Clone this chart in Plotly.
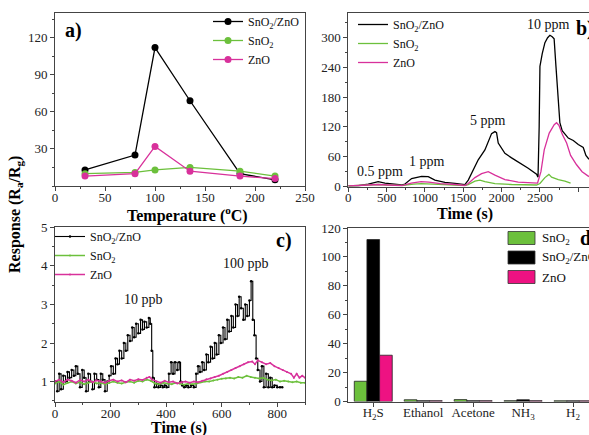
import plotly.graph_objects as go

# ---------------- data ----------------
# panel a: response vs temperature
temp_c = [30, 80, 100, 135, 185, 220]
a_sno2_zno = [13, 25, 112, 69, 10, 5]
a_sno2 = [10, 11, 13, 15, 12, 8]
a_zno = [8, 10, 32, 12, 8, 6]

# panel b: dynamic response (ppm level)
b_t_black = [0, 130, 260, 390, 478, 608, 695, 739, 826, 956, 1043, 1130, 1260, 1391, 1521, 1565, 1608,
             1652, 1695, 1782, 1869, 1913, 1934, 1956, 2043, 2130, 2217, 2347, 2456, 2475, 2490, 2500,
             2530, 2565, 2600, 2630, 2660, 2685, 2709, 2739, 2760, 2790, 2830, 2870, 2935, 3000, 3065,
             3100, 3140]
b_v_black = [0, 0.5, 4, 9, 6, 4, 2, 4, 15, 19.5, 19, 12, 7.4, 5.4, 2.7, 12, 26,
             39, 53, 73, 106, 110, 108, 87, 66, 57, 49, 36, 24, 18, 120, 242,
             268, 290, 300, 305, 302, 298, 242, 175, 128, 112, 104, 97, 92, 84, 78,
             62, 54]
b_t_green = [0, 200, 390, 500, 700, 850, 950, 1100, 1300, 1521, 1565, 1652, 1717, 1782, 1913, 2130,
             2456, 2500, 2565, 2617, 2652, 2739, 2826, 2900]
b_v_green = [0, 1, 3, 2, 1, 4, 5, 4, 2, 1, 3, 10, 12, 9, 5, 3,
             2, 5, 17, 23.5, 18, 13, 10, 6]
b_t_mag = [0, 200, 390, 520, 700, 820, 950, 1050, 1200, 1400, 1521, 1565, 1652, 1739, 1826, 1913, 2043,
           2217, 2456, 2469, 2513, 2556, 2621, 2686, 2717, 2750, 2790, 2848, 2900, 2978, 3050, 3140]
b_v_mag = [0, 1, 3, 2, 1, 6, 9, 8, 5, 3, 1, 5, 17, 25, 29, 22, 13,
           8, 5, 6, 29, 73, 107, 124, 128, 122, 105, 87, 62, 43, 29, 19]

# panel c: dynamic response (ppb level)
c_t_black = [0, 8, 15, 22, 30, 38, 45, 52, 60, 68, 75, 82, 90, 98, 105, 112, 120, 128, 135, 142, 150,
             158, 165, 172, 180, 188, 195, 202, 210, 218, 225, 232, 240, 248, 255, 262, 270, 278, 285,
             292, 300, 308, 315, 322, 330, 338, 343, 348, 352, 358, 365, 372, 380, 388, 395, 402, 410,
             418, 425, 432, 440, 447, 452, 458, 465, 472, 480, 490, 500, 508, 515, 522, 530, 537, 545,
             552, 560, 567, 575, 582, 590, 597, 605, 612, 620, 627, 635, 642, 650, 657, 663, 670, 678,
             685, 692, 700, 706, 712, 718, 724, 730, 738, 745, 752, 760, 768, 775, 782, 790, 800, 810, 818]
c_v_black = [1.0, 0.75, 1.2, 0.8, 1.15, 1.0, 1.25, 1.1, 1.3, 1.15, 1.4, 1.2, 0.85, 1.3, 1.1, 0.75, 1.2,
             1.0, 0.8, 1.2, 1.05, 0.85, 1.2, 1.05, 0.75, 1.0, 1.15, 1.4, 1.2, 1.6, 1.45, 1.8, 1.6, 2.0,
             1.8, 2.2, 2.05, 2.4, 2.15, 2.5, 2.25, 2.6, 2.35, 2.55, 2.4, 2.65, 2.5, 1.8, 1.1, 0.85, 0.95,
             0.85, 0.9, 0.85, 0.9, 0.85, 1.2, 1.5, 1.2, 1.5, 1.3, 1.5, 1.0, 0.9, 0.85, 0.9, 0.85, 0.9,
             0.85, 1.2, 1.4, 1.25, 1.5, 1.3, 1.7, 1.5, 1.9, 1.6, 2.0, 1.7, 2.2, 2.0, 2.4, 2.1, 2.6, 2.3,
             2.7, 2.4, 3.0, 2.7, 3.2, 2.9, 2.6, 3.0, 2.7, 3.1, 3.6, 2.6, 2.2, 1.6, 1.3, 1.0, 1.4, 0.85,
             1.2, 0.85, 1.1, 0.85, 0.9, 0.85, 0.85, 0.85]
c_t_mag = [0, 15, 30, 45, 60, 75, 90, 105, 120, 135, 150, 165, 180, 195, 210, 225, 240, 255, 270, 285,
           300, 315, 330, 340, 350, 365, 380, 395, 410, 425, 440, 455, 470, 485, 500, 515, 530, 545, 560,
           575, 590, 605, 620, 635, 650, 665, 680, 695, 710, 720, 730, 745, 760, 775, 790, 805, 820, 835,
           850, 860, 870, 880, 890, 900]
c_v_mag = [1.0, 1.05, 0.98, 1.05, 1.02, 0.97, 1.04, 1.0, 1.05, 0.98, 1.03, 1.0, 0.97, 1.02, 1.05, 1.0,
           1.03, 0.98, 1.05, 1.02, 1.06, 1.04, 1.1, 1.12, 1.05, 1.0, 0.97, 1.02, 0.98, 1.0, 0.95, 0.98,
           1.0, 0.97, 1.0, 0.98, 1.02, 1.06, 1.08, 1.12, 1.15, 1.2, 1.25, 1.3, 1.35, 1.4, 1.45, 1.5, 1.52,
           1.45, 1.55, 1.5, 1.45, 1.48, 1.4, 1.35, 1.3, 1.25, 1.2, 1.1, 1.2, 1.1, 1.15, 1.1]
c_t_green = [0, 15, 30, 45, 60, 75, 90, 105, 120, 135, 150, 165, 180, 195, 210, 225, 240, 255, 270, 285,
             300, 315, 330, 345, 360, 375, 390, 405, 420, 435, 450, 465, 480, 495, 510, 525, 540, 555, 570,
             585, 600, 615, 630, 645, 660, 675, 690, 705, 720, 735, 750, 765, 780, 795, 810, 825, 840, 855,
             870, 885, 900]
c_v_green = [0.95, 1.0, 0.92, 0.97, 1.0, 0.95, 0.98, 0.93, 0.97, 1.0, 0.95, 0.97, 0.93, 0.96, 1.0, 0.97,
             0.95, 0.98, 1.0, 0.97, 1.02, 1.0, 1.05, 1.02, 0.95, 0.93, 0.97, 0.95, 0.93, 0.97, 0.95, 0.92,
             0.95, 0.93, 0.95, 0.98, 1.0, 1.0, 1.03, 1.05, 1.07, 1.08, 1.1, 1.08, 1.12, 1.1, 1.15, 1.12, 1.1,
             1.08, 1.1, 1.05, 1.03, 1.05, 1.0, 1.02, 1.0, 0.98, 1.0, 0.97, 0.97]

# panel d: selectivity
gases = ["H<sub>2</sub>S", "Ethanol", "Acetone", "NH<sub>3</sub>", "H<sub>2</sub>"]
d_sno2 = [14, 1.2, 1.3, 0.6, 0.5]
d_sno2_zno = [112, 0.6, 0.6, 1.2, 0.5]
d_zno = [32, 0.6, 0.6, 0.6, 0.5]

# ---------------- style ----------------
BLACK = "#000000"
GREEN = "#6cc03c"
MAG = "#d8319b"
PINK = "#ee1282"
FONT = "Liberation Serif"
AX = "#444444"
W, H = 589, 435

L_SZ = "SnO<sub>2</sub>/ZnO"
L_S = "SnO<sub>2</sub>"
L_Z = "ZnO"

fig = go.Figure()

# panel a
for name, vals, col in [(L_SZ, a_sno2_zno, BLACK), (L_S, a_sno2, GREEN), (L_Z, a_zno, MAG)]:
    fig.add_trace(go.Scatter(x=temp_c, y=vals, name=name, mode="lines+markers",
                             line=dict(color=col, width=1.3), marker=dict(color=col, size=7),
                             xaxis="x", yaxis="y", legend="legend"))
# panel b
for name, t, v, col in [(L_SZ, b_t_black, b_v_black, BLACK), (L_S, b_t_green, b_v_green, GREEN),
                        (L_Z, b_t_mag, b_v_mag, MAG)]:
    fig.add_trace(go.Scatter(x=t, y=v, name=name, mode="lines", line=dict(color=col, width=1.3),
                             xaxis="x2", yaxis="y2", legend="legend2"))
# panel c
fig.add_trace(go.Scatter(x=c_t_black, y=c_v_black, name=L_SZ, mode="lines+markers",
                         line=dict(color=BLACK, width=1.1, shape="hv"), marker=dict(color=BLACK, size=2.5),
                         xaxis="x3", yaxis="y3", legend="legend3"))
fig.add_trace(go.Scatter(x=c_t_green, y=c_v_green, name=L_S, mode="lines+markers",
                         line=dict(color=GREEN, width=1.5), marker=dict(color=GREEN, size=2),
                         xaxis="x3", yaxis="y3", legend="legend3"))
fig.add_trace(go.Scatter(x=c_t_mag, y=c_v_mag, name=L_Z, mode="lines+markers",
                         line=dict(color=MAG, width=1.5), marker=dict(color=MAG, size=2),
                         xaxis="x3", yaxis="y3", legend="legend3"))
# panel d (legend drawn manually below: wide boxes, clipped at the right edge)
d_series = [(L_S, d_sno2, GREEN), (L_SZ, d_sno2_zno, BLACK), (L_Z, d_zno, PINK)]
for name, vals, col in d_series:
    fig.add_trace(go.Bar(x=gases, y=vals, name=name, marker=dict(color=col, line=dict(color="#222", width=0.8)),
                         xaxis="x4", yaxis="y4", showlegend=False))


def px_x(p):
    return p / W


def px_y(p):
    return 1 - p / H


tickfont = dict(family=FONT, size=13, color="#222")
common = dict(showline=True, linecolor=AX, linewidth=1, mirror=True, ticks="outside", ticklen=4,
              tickcolor=AX, tickfont=tickfont, showgrid=False, zeroline=False, automargin=False)
xcommon = dict(ticklabelstandoff=-5, **common)

legfont = dict(family=FONT, size=12, color="#111")
leg = dict(font=legfont, bgcolor="rgba(0,0,0,0)", borderwidth=0, itemwidth=30, tracegroupgap=0,
           yanchor="top", xanchor="left")

fig.update_layout(
    width=W, height=H, margin=dict(l=0, r=0, t=0, b=0, autoexpand=False),
    paper_bgcolor="white", plot_bgcolor="white",
    font=dict(family=FONT, color="#111"),
    barmode="group", bargap=0.24, bargroupgap=0,
    xaxis=dict(domain=[px_x(55), px_x(305)], range=[0, 250], dtick=50, anchor="y",
               minor=dict(ticks="outside", ticklen=2, dtick=25, tickcolor=AX), **xcommon),
    yaxis=dict(domain=[px_y(186), px_y(13)], range=[0, 140], tickvals=[30, 60, 90, 120], anchor="x",
               minor=dict(ticks="outside", ticklen=2, dtick=15, tickcolor=AX), **common),
    xaxis2=dict(domain=[px_x(348.3), 1.0], range=[0, 3140], dtick=500, anchor="y2",
                minor=dict(ticks="outside", ticklen=2, dtick=250, tickcolor=AX), **xcommon),
    yaxis2=dict(domain=[px_y(186.5), px_y(13)], range=[-1, 350], tickvals=[0, 60, 120, 180, 240, 300],
                anchor="x2", minor=dict(ticks="outside", ticklen=2, dtick=30, tickcolor=AX), **common),
    xaxis3=dict(domain=[px_x(55), px_x(305)], range=[0, 900], tickvals=[0, 200, 400, 600, 800], anchor="y3",
                minor=dict(ticks="outside", ticklen=2, dtick=100, tickcolor=AX), **xcommon),
    yaxis3=dict(domain=[px_y(402), px_y(227.3)], range=[0.47, 5], tickvals=[1, 2, 3, 4, 5], anchor="x3",
                minor=dict(ticks="outside", ticklen=2, dtick=0.5, tickcolor=AX), **common),
    xaxis4=dict(domain=[px_x(348.3), 1.0], type="category", range=[-0.5, 4.32], anchor="y4", **xcommon),
    yaxis4=dict(domain=[px_y(401.5), px_y(228)], range=[0, 120], dtick=20, anchor="x4",
                minor=dict(ticks="outside", ticklen=2, dtick=10, tickcolor=AX), **common),
    legend=dict(x=px_x(208), y=px_y(7), **leg),
    legend2=dict(x=px_x(353), y=px_y(10), **leg),
    legend3=dict(x=px_x(50), y=px_y(222), **leg),
)

ann = []
shapes = []
bold_lab = dict(family=FONT, size=20, color="#000")
for txt, x, y in [("<b>a)</b>", 63, 30), ("<b>b)</b>", 574, 28), ("<b>c)</b>", 274, 240), ("<b>d)</b>", 578, 239)]:
    ann.append(dict(text=txt, x=px_x(x), y=px_y(y), xref="paper", yref="paper", showarrow=False,
                    xanchor="left", yanchor="middle", font=bold_lab))
txtfont = dict(family=FONT, size=14, color="#111")
for txt, x, y in [("0.5 ppm", 413, 30), ("1 ppm", 1022, 49), ("5 ppm", 1826, 133), ("10 ppm", 2609, 327)]:
    ann.append(dict(text=txt, x=x, y=y, xref="x2", yref="y2", showarrow=False, font=txtfont,
                    xanchor="center", yanchor="middle"))
for txt, x, y in [("10 ppb", 319, 3.12), ("100 ppb", 686, 4.07)]:
    ann.append(dict(text=txt, x=x, y=y, xref="x3", yref="y3", showarrow=False, font=txtfont,
                    xanchor="center", yanchor="middle"))
titlefont = dict(family=FONT, size=16, color="#000")
for txt, x, y in [("<b>Temperature (<sup>o</sup>C)</b>", 187, 215), ("<b>Time (s)</b>", 465, 214),
                  ("<b>Time (s)</b>", 179, 428)]:
    ann.append(dict(text=txt, x=px_x(x), y=px_y(y), xref="paper", yref="paper", showarrow=False,
                    xanchor="center", yanchor="middle", font=titlefont))
ann.append(dict(text="<b>Response (R<sub>a</sub>/R<sub>g</sub>)</b>", x=px_x(16), y=px_y(215), xref="paper",
                yref="paper", showarrow=False, textangle=-90, font=titlefont,
                xanchor="center", yanchor="middle"))

# manual legend for panel d
for i, (name, vals, col) in enumerate(d_series):
    yc = 238 + i * 19.5
    shapes.append(dict(type="rect", xref="paper", yref="paper", x0=px_x(508), x1=px_x(535),
                       y0=px_y(yc + 6.5), y1=px_y(yc - 6.5), fillcolor=col, line=dict(color="#333", width=0.8)))
    ann.append(dict(text=name, x=px_x(540), y=px_y(yc), xref="paper", yref="paper", showarrow=False,
                    xanchor="left", yanchor="middle", font=dict(family=FONT, size=13, color="#111")))

fig.update_layout(annotations=ann, shapes=shapes)

fig.write_html("out.html", config={"displayModeBar": False},
               post_script="document.body.style.margin='0';document.body.style.overflow='hidden';")
